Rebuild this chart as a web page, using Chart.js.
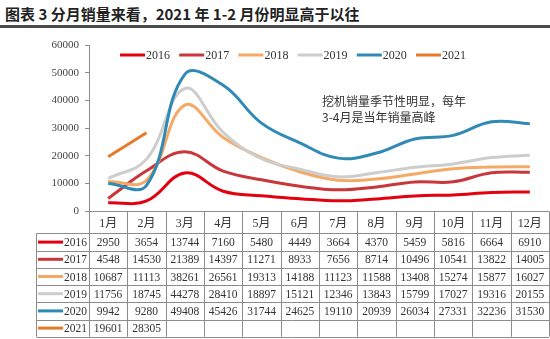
<!DOCTYPE html>
<html><head><meta charset="utf-8">
<script src="https://cdn.jsdelivr.net/npm/chart.js@4.4.0/dist/chart.umd.min.js"></script>
<style>
html,body{margin:0;padding:0;background:#fff;width:550px;height:339px;overflow:hidden;}
#title{position:absolute;left:5px;top:4px;font:bold 15px "Noto Sans CJK SC";color:#222;white-space:nowrap;line-height:20px;}
#rule{position:absolute;left:0;top:25px;width:550px;height:3px;background:#4a4a4a;}
#wrap{position:absolute;left:0;top:30px;width:550px;height:309px;}
</style></head><body>
<div id="title">图表 3 分月销量来看，2021 年 1-2 月份明显高于以往</div>
<div id="rule"></div>
<div id="wrap"><canvas id="c"></canvas></div>
<script>
const months = ['1月','2月','3月','4月','5月','6月','7月','8月','9月','10月','11月','12月'];
const years = ['2016','2017','2018','2019','2020','2021'];
const s2016 = [2950,3654,13744,7160,5480,4449,3664,4370,5459,5816,6664,6910];
const s2017 = [4548,14530,21389,14397,11271,8933,7656,8714,10496,10541,13822,14005];
const s2018 = [10687,11113,38261,26561,19313,14188,11123,11588,13408,15274,15877,16027];
const s2019 = [11756,18745,44278,28410,18897,15121,12346,13843,15799,17027,19316,20155];
const s2020 = [9942,9280,49408,45426,31744,24625,19110,20939,26034,27331,32236,31530];
const s2021 = [19601,28305,null,null,null,null,null,null,null,null,null,null];
const yTicks = [0,10000,20000,30000,40000,50000,60000];
const note = ['挖机销量季节性明显，每年','3-4月是当年销量高峰'];

const seriesData = [s2016,s2017,s2018,s2019,s2020,s2021];
const colors = ['#e3000f','#c9373a','#f5a966','#cdcdcd','#2f8ab5','#e57a2b'];

const datasets = years.map((y,i)=>({
  label:y, data:seriesData[i], borderColor:colors[i], backgroundColor:colors[i],
  borderWidth:3, pointRadius:0, tension:0.4, fill:false, order:6-i
}));

const serif = '"Liberation Serif","Times New Roman","Noto Sans CJK SC",serif';

const extras = {
  id:'extras',
  afterDraw(chart){
    const ctx = chart.ctx, xs = chart.scales.x, ca = chart.chartArea;
    const half = (ca.right-ca.left)/24;
    const top = Math.round(ca.bottom)+0.5;
    const catBottom = top+22;
    const rowH = 17.2;
    const bottom = catBottom + rowH*years.length;
    const leftEdge = 36.5;
    ctx.save();
    ctx.strokeStyle = '#8c8c8c'; ctx.lineWidth = 1;
    ctx.beginPath();
    ctx.moveTo(ca.left, top); ctx.lineTo(ca.right, top);
    ctx.moveTo(leftEdge, catBottom); ctx.lineTo(ca.right, catBottom);
    for(let r=1;r<=years.length;r++){
      const yy = Math.round(catBottom + rowH*r)+0.5;
      ctx.moveTo(leftEdge, yy); ctx.lineTo(ca.right, yy);
    }
    ctx.moveTo(leftEdge, catBottom); ctx.lineTo(leftEdge, bottom);
    for(let c=0;c<=months.length;c++){
      const xx = Math.round(xs.getPixelForValue(c)-half)+0.5;
      ctx.moveTo(xx, top); ctx.lineTo(xx, bottom);
    }
    ctx.stroke();
    ctx.fillStyle = '#333';
    ctx.textAlign = 'center'; ctx.textBaseline = 'middle';
    ctx.font = '12px '+serif;
    months.forEach((m,i)=>ctx.fillText(m, xs.getPixelForValue(i), (top+catBottom)/2+1));
    ctx.font = '11.5px '+serif;
    years.forEach((y,r)=>{
      const cy = catBottom + rowH*r + rowH/2 + 1;
      ctx.strokeStyle = colors[r]; ctx.lineWidth = 3;
      ctx.beginPath(); ctx.moveTo(38, cy-1); ctx.lineTo(63, cy-1); ctx.stroke();
      ctx.textAlign = 'right'; ctx.fillStyle = '#333';
      ctx.fillText(y, 87, cy);
      ctx.textAlign = 'center';
      seriesData[r].forEach((v,i)=>{
        if(v!==null) ctx.fillText(String(v), xs.getPixelForValue(i), cy);
      });
    });
    ctx.font = '12px '+serif;
    ctx.textAlign = 'left';
    const ly = ca.top + 10;
    years.forEach((y,i)=>{
      const lx = 120 + i*59.2;
      ctx.strokeStyle = colors[i]; ctx.lineWidth = 3;
      ctx.beginPath(); ctx.moveTo(lx, ly); ctx.lineTo(lx+25, ly); ctx.stroke();
      ctx.fillStyle = '#333';
      ctx.fillText(y, lx+26, ly+1);
    });
    ctx.font = '12px "Noto Sans CJK SC"';
    ctx.fillStyle = '#333';
    note.forEach((t,i)=>ctx.fillText(t, 322, 71 + i*16));
    ctx.restore();
  }
};

new Chart(document.getElementById('c'), {
  type:'line',
  data:{labels:months, datasets},
  options:{
    responsive:true, maintainAspectRatio:false, animation:false,
    layout:{padding:{left:0,right:1,top:15,bottom:128}},
    plugins:{legend:{display:false}, tooltip:{enabled:false}},
    scales:{
      x:{offset:true, ticks:{display:false}, grid:{display:false}, border:{display:false},
         afterFit(s){ s.height = 0; }},
      y:{min:0, max:60000,
         afterBuildTicks(s){ s.ticks = yTicks.map(v=>({value:v})); },
         ticks:{font:{family:serif,size:11}, color:'#444', padding:6, callback:(v)=>String(v)},
         grid:{drawOnChartArea:false, drawTicks:true, tickLength:4, color:'#8c8c8c'},
         border:{display:true, color:'#8c8c8c'},
         afterFit(s){ s.width = 89; }}
    }
  },
  plugins:[extras]
});
</script>
</body></html>
